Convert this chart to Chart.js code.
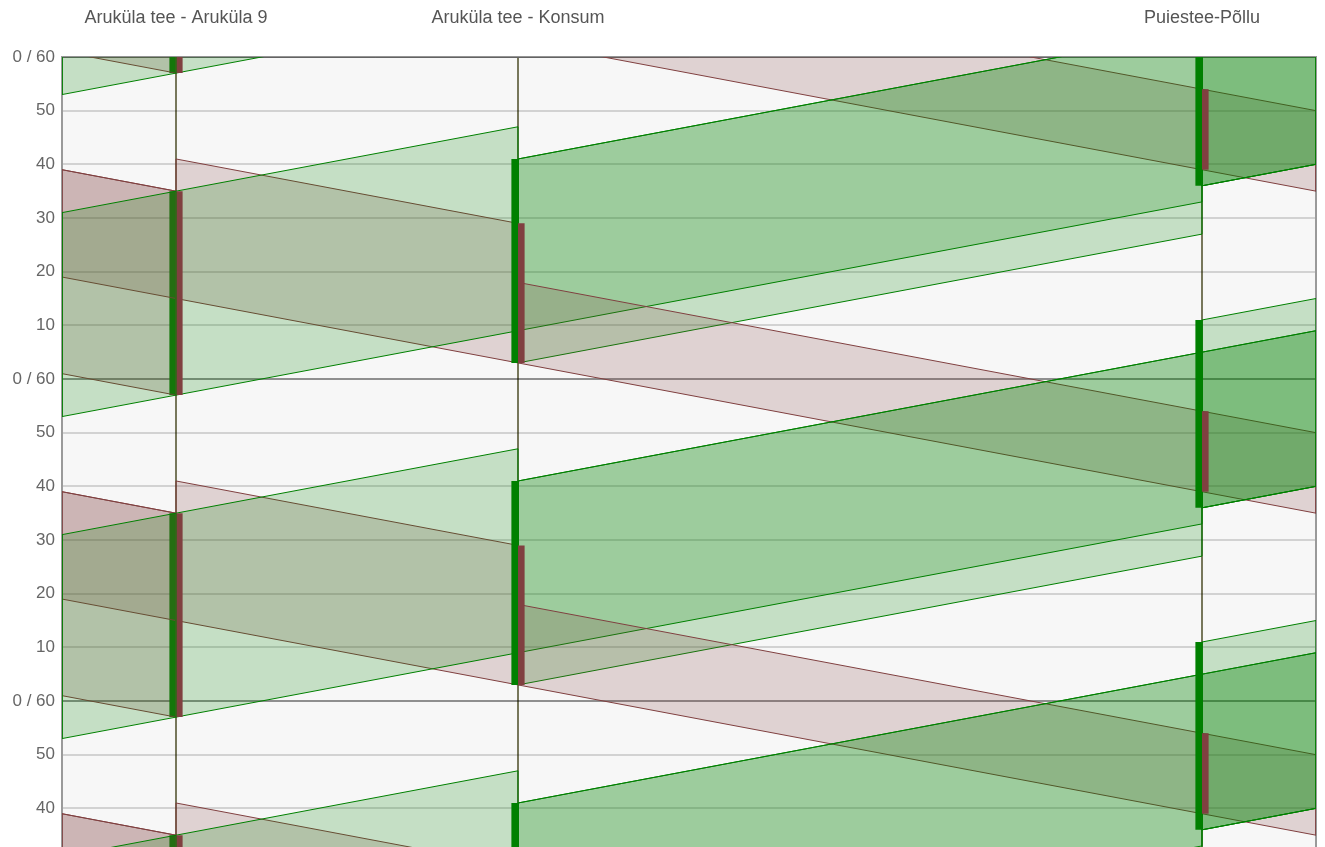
<!DOCTYPE html>
<html>
<head>
<meta charset="utf-8">
<script src="https://cdn.jsdelivr.net/npm/chart.js@4.4.1/dist/chart.umd.min.js"></script>
<style>
html,body{margin:0;padding:0;background:#fff;overflow:hidden}
#wrap{position:relative;width:1325px;height:847px}
</style>
</head>
<body>
<div id="wrap"><canvas id="c" width="1325" height="847"></canvas></div>
<script>
// ---- data (distances in m, times in s within a 60 s cycle) ----
const intersectionNames = ['Aruküla tee - Aruküla 9', 'Aruküla tee - Konsum', 'Puiestee-Põllu'];
const intersectionPositions = [0, 150, 450];
const distanceRange = [-50, 500];
const travelSpeed = 12.5;           // m/s
const cycleLength = 60;             // s
const timeRange = [32.8, 180];
const tickStep = 10;
const cycleRepeats = [-1, 0, 1, 2, 3];

// green phase windows at each intersection [start, end]
const forwardPhases = [[57, 95], [3, 41], [36, 71]];
const reversePhases = [[57, 95], [3, 29], [39, 54]];

// bands: [from position, to position, window start, window end] (window at "from")
const forwardBands = [
  [-50, 0, 53, 91],
  [0, 150, 57, 95],
  [150, 450, 9, 41],
  [150, 450, 3, 41],
  [450, 500, 36, 65],
  [450, 500, 36, 65],
  [450, 500, 36, 71]
];
const reverseBands = [
  [500, 450, 35, 50],
  [450, 150, 39, 54],
  [150, 0, 3, 29],
  [0, -50, 15, 35],
  [0, -50, 57, 95]
];

// ---- styles ----
const GREEN = 'rgb(0,128,0)';
const GREEN_FILL = 'rgba(0,128,0,0.2)';
const RED = 'rgb(128,64,64)';
const RED_FILL = 'rgba(128,64,64,0.2)';
const BAR_SHIFT = 1.45;   // m, half bar width beside the intersection line
const BAR_WIDTH = 6.6;    // px
const FONT = "'Liberation Sans', Arial, sans-serif";

function bandPoints(b, shift) {
  const [from, to, t0, t1] = b;
  const dt = Math.abs(to - from) / travelSpeed;
  return [
    {x: from, y: t0 + shift},
    {x: to, y: t0 + dt + shift},
    {x: to, y: t1 + dt + shift},
    {x: from, y: t1 + shift},
    {x: from, y: t0 + shift}
  ];
}
// draw layering: bands touching the left edge on top, then bars, then the rest
function bandOrder(b) {
  return Math.min(b[0], b[1]) <= distanceRange[0] ? 0 : 2;
}

const datasets = [];
cycleRepeats.forEach(k => {
  const s = k * cycleLength;
  forwardBands.forEach(b => datasets.push({
    data: bandPoints(b, s), showLine: true, fill: 'shape', tension: 0,
    borderColor: GREEN, backgroundColor: GREEN_FILL, borderWidth: 1,
    pointRadius: 0, order: bandOrder(b), clip: 0
  }));
  reverseBands.forEach(b => datasets.push({
    data: bandPoints(b, s), showLine: true, fill: 'shape', tension: 0,
    borderColor: RED, backgroundColor: RED_FILL, borderWidth: 1,
    pointRadius: 0, order: bandOrder(b), clip: 0
  }));
  intersectionPositions.forEach((p, i) => {
    datasets.push({
      data: [{x: p - BAR_SHIFT, y: forwardPhases[i][0] + s}, {x: p - BAR_SHIFT, y: forwardPhases[i][1] + s}],
      showLine: true, fill: false, borderColor: GREEN, borderWidth: BAR_WIDTH,
      borderCapStyle: 'butt', pointRadius: 0, order: 1, clip: 0
    });
    datasets.push({
      data: [{x: p + BAR_SHIFT, y: reversePhases[i][0] + s}, {x: p + BAR_SHIFT, y: reversePhases[i][1] + s}],
      showLine: true, fill: false, borderColor: RED, borderWidth: BAR_WIDTH,
      borderCapStyle: 'butt', pointRadius: 0, order: 1, clip: 0
    });
  });
});

const bgPlugin = {
  id: 'bg',
  beforeDraw(chart) {
    const {ctx, chartArea: a} = chart;
    ctx.save();
    ctx.fillStyle = '#ffffff';
    ctx.fillRect(0, 0, chart.width, chart.height);
    ctx.fillStyle = '#f7f7f7';
    ctx.fillRect(a.left, a.top, a.right - a.left, a.bottom - a.top);
    ctx.restore();
  }
};

function noPad(s) {
  s.paddingTop = 0; s.paddingBottom = 0; s.paddingLeft = 0; s.paddingRight = 0;
}

new Chart(document.getElementById('c'), {
  type: 'scatter',
  data: {datasets},
  options: {
    responsive: false,
    animation: false,
    events: [],
    layout: {padding: 0},
    plugins: {legend: {display: false}, tooltip: {enabled: false}},
    scales: {
      x: {
        type: 'linear', position: 'top',
        min: distanceRange[0], max: distanceRange[1],
        afterBuildTicks: s => { s.ticks = intersectionPositions.map(v => ({value: v})); },
        afterFit: s => { s.height = 57; noPad(s); },
        ticks: {
          callback: (v, i) => intersectionNames[i],
          font: {family: FONT, size: 18}, color: '#555',
          padding: 28, maxRotation: 0, autoSkip: false
        },
        grid: {color: '#77775b', lineWidth: 2, drawTicks: false},
        border: {display: true, color: 'rgba(0,0,0,0.3)', width: 1}
      },
      y: {
        type: 'linear', position: 'left', z: 1,
        min: timeRange[0], max: timeRange[1],
        afterBuildTicks: s => {
          const t = [];
          for (let v = Math.ceil(timeRange[0] / tickStep) * tickStep; v <= timeRange[1]; v += tickStep) t.push({value: v});
          s.ticks = t;
        },
        afterFit: s => { s.width = 62; noPad(s); },
        ticks: {
          callback: v => (v % cycleLength === 0 ? '0 / 60' : String(v % cycleLength)),
          font: {family: FONT, size: 17}, color: '#666', padding: 7
        },
        grid: {
          color: c => (c.tick && c.tick.value % cycleLength === 0 ? 'rgba(0,0,0,0.42)' : 'rgba(0,0,0,0.15)'),
          lineWidth: 2, drawTicks: false
        },
        border: {color: '#9a9a9a', width: 2}
      },
      y2: {
        type: 'linear', position: 'right', display: true,
        ticks: {display: false},
        grid: {drawOnChartArea: false, drawTicks: false},
        border: {color: '#9a9a9a', width: 2},
        afterFit: s => { s.width = 9; noPad(s); }
      }
    }
  },
  plugins: [bgPlugin]
});
</script>
</body>
</html>
